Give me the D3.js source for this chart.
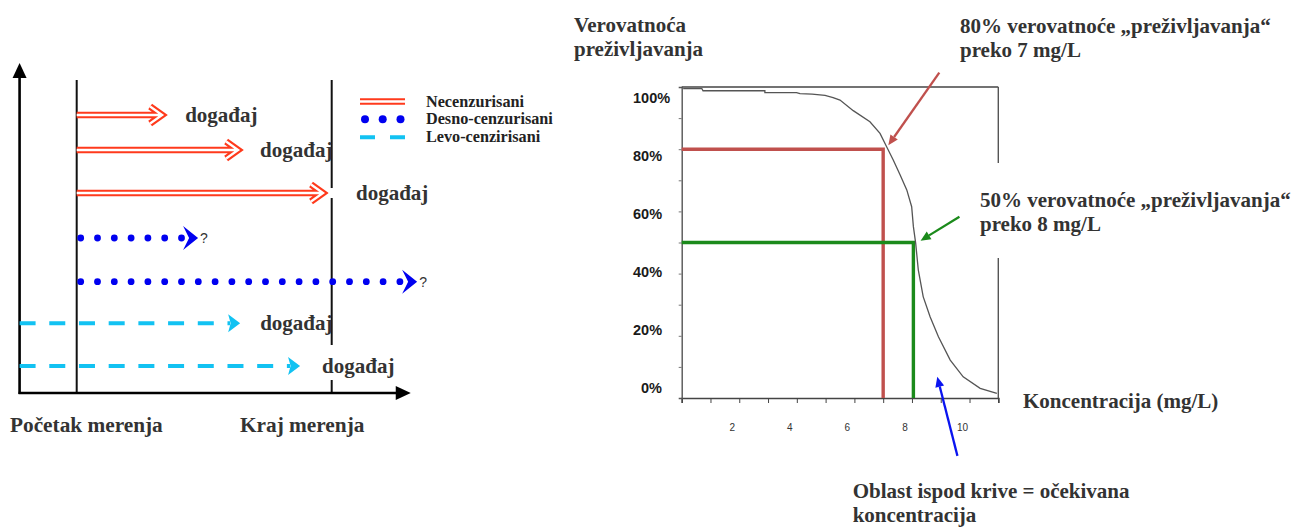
<!DOCTYPE html>
<html><head><meta charset="utf-8">
<script src="https://cdnjs.cloudflare.com/ajax/libs/d3/7.8.5/d3.min.js"></script>
<style>body{margin:0;background:#fff;} svg{display:block;}</style>
</head><body><svg id="c" width="1299" height="527"></svg>
<script>
// ================= DATA =================
// Left panel: observation rows (time in arbitrary units, 0 = start, 10 = end of measurement)
const rowIndex = [1, 1.837, 2.865, 3.94, 4.985, 5.98, 7.0];
const rowStart = [0, 0, 0, 0, 0, -2.24, -2.24];
const rowEnd   = [3.35, 6.33, 9.66, 4.76, 13.35, 6.41, 8.76];
const rowType  = ["N", "N", "N", "D", "D", "L", "L"];
const rowLabel = ["događaj", "događaj", "događaj", "?", "?", "događaj", "događaj"];
const measureMarks = [0, 10];
const measureLabels = ["Početak merenja", "Kraj merenja"];
const legendTypes = ["N", "D", "L"];
const legendLabels = ["Necenzurisani", "Desno-cenzurisani", "Levo-cenzirisani"];

// Right panel: survival curve (concentration mg/L, survival %)
const curveX = [0.05, 0.7, 0.74, 2.89, 2.89, 3.99, 4.11, 4.53, 4.98, 5.26, 5.5, 5.96, 6.54, 6.89, 7.12, 7.35, 7.59, 7.82, 7.99, 8.05, 8.13, 8.22, 8.39, 8.63, 8.92, 9.33, 9.78, 10.37, 10.95];
const curveY = [99.5, 99.5, 98.8, 98.8, 98.2, 98.2, 97.9, 97.7, 97.3, 96.6, 95.8, 92.4, 88.8, 85.1, 80.8, 76.5, 71.7, 66.9, 61.5, 55.1, 49.7, 41.2, 32.6, 26.1, 19.7, 12.2, 6.8, 3.1, 1.5];
const xTicks = [0,1,2,3,4,5,6,7,8,9,10,11];
const xTickLabels = [2, 4, 6, 8, 10];
const yTickLabels = [0, 20, 40, 60, 80, 100];
const yMinorTicks = [10, 20, 30, 40, 50, 60, 70, 80, 90];
const refX = [7, 8.05];       // red, green
const refY = [80, 50];
const annotX0 = [8.95, 9.65, 9.58];  // arrow tails (red, green, blue)
const annotY0 = [104.6, 58.3, -18.6];
const annotX1 = [7.18, 8.30, 8.88];  // arrow tips
const annotY1 = [81.3, 50.6, 6.8];
const annotColors = ["#c0504d", "#1b8a1b", "#0a14f0"];

// ================= DRAW =================
const svg = d3.select("#c");
const SERIF = "'Liberation Serif','Times New Roman',serif";
const SANS = "'Liberation Sans',Arial,sans-serif";
const RED = "#ff3a1c", BLUE = "#0000f0", CYAN = "#12c2f2";

// ---------- left panel ----------
const tX = d3.scaleLinear().domain([0, 10]).range([76.7, 331.7]);
const rY = d3.scaleLinear().domain([1, 7]).range([115, 366]);
const axisT0 = -2.24, axisT1 = 13.1, baseY = 393, topY = 63;
const L = svg.append("g");

// measurement lines
L.selectAll("line.meas").data(measureMarks).join("line")
  .attr("x1", d => tX(d)).attr("x2", d => tX(d))
  .attr("y1", 80).attr("y2", baseY)
  .attr("stroke", "#111").attr("stroke-width", 2);

// axes with arrows
L.append("line").attr("x1", tX(axisT0)).attr("x2", tX(axisT0)).attr("y1", baseY + 1).attr("y2", topY + 12)
  .attr("stroke", "#000").attr("stroke-width", 2.6);
L.append("path").attr("d", `M${tX(axisT0)},${topY} L${tX(axisT0) - 7},${topY + 15} L${tX(axisT0) + 7},${topY + 15} Z`).attr("fill", "#000");
L.append("line").attr("x1", tX(axisT0) - 1).attr("x2", tX(axisT1) - 12).attr("y1", baseY).attr("y2", baseY)
  .attr("stroke", "#000").attr("stroke-width", 2.6);
L.append("path").attr("d", `M${tX(axisT1)},${baseY} L${tX(axisT1) - 15},${baseY - 7} L${tX(axisT1) - 15},${baseY + 7} Z`).attr("fill", "#000");

const rows = rowIndex.map((r, i) => ({r, s: rowStart[i], e: rowEnd[i], type: rowType[i], label: rowLabel[i], i}));

function drawDouble(g, x0, x1, y, head) {
  let d = `M${x0},${y} L${x1},${y}`;
  if (head) d += ` M${x1 - 12},${y - 8.5} L${x1},${y} L${x1 - 12},${y + 8.5}`;
  g.append("path").attr("d", d).attr("fill", "none").attr("stroke", RED).attr("stroke-width", 6.6).attr("stroke-linejoin", "miter");
  g.append("path").attr("d", d).attr("fill", "none").attr("stroke", "#fff").attr("stroke-width", 2.3).attr("stroke-linejoin", "miter");
}

rows.forEach(o => {
  const y = rY(o.r), x0 = tX(o.s), x1 = tX(o.e);
  if (o.type === "N") {
    drawDouble(L, x0, x1, y, true);
  } else if (o.type === "D") {
    const xs = d3.range(x0 + 4, x1 - 14, 16.8);
    L.selectAll(null).data(xs).join("circle").attr("cx", d => d).attr("cy", y).attr("r", 3.4).attr("fill", BLUE);
    L.append("path").attr("d", `M${x1 - 15},${y - 12} L${x1},${y} L${x1 - 15},${y + 12} L${x1 - 9},${y} Z`).attr("fill", BLUE);
  } else {
    L.append("line").attr("x1", x0).attr("x2", x1 - 10).attr("y1", y).attr("y2", y)
      .attr("stroke", CYAN).attr("stroke-width", 4).attr("stroke-dasharray", "16 13.7");
    L.append("path").attr("d", `M${x1 - 12},${y - 9} L${x1},${y} L${x1 - 12},${y + 9} L${x1 - 9.5},${y} Z`).attr("fill", CYAN);
  }
});

// gaps in the end-of-measurement line behind some labels
const gapRows = [[2, -5, 5], [6, -21, 14]];
gapRows.forEach(([i, a, b]) => {
  L.append("rect").attr("x", tX(10) - 3).attr("y", rY(rowIndex[i]) + a).attr("width", 6).attr("height", b - a).attr("fill", "#fff");
});

const labelGap = [23, 22, 33, 2, 2, 20, 22];
rows.forEach(o => {
  const y = rY(o.r), x1 = tX(o.e);
  if (o.label === "?") {
    L.append("text").attr("x", x1 + labelGap[o.i]).attr("y", y + 5).text("?")
      .attr("font-family", SANS).attr("font-size", 14).attr("fill", "#333");
  } else {
    L.append("text").attr("x", x1 + labelGap[o.i]).attr("y", y + 7).text(o.label)
      .attr("font-family", SERIF).attr("font-weight", "bold").attr("font-size", 21).attr("fill", "#333");
  }
});

// bottom labels
L.selectAll("text.ml").data(measureLabels).join("text")
  .attr("x", (d, i) => i === 0 ? 10 : 240).attr("y", 431.7).text(d => d)
  .attr("font-family", SERIF).attr("font-weight", "bold").attr("font-size", 21.3).attr("fill", "#333");

// legend
const legY = [101.5, 119.3, 137.2];
legendTypes.forEach((t, i) => {
  const y = legY[i];
  if (t === "N") drawDouble(L, 360, 405, y, false);
  else if (t === "D") L.selectAll(null).data([365, 382.7, 400.5]).join("circle").attr("cx", d => d).attr("cy", y).attr("r", 4).attr("fill", BLUE);
  else L.append("line").attr("x1", 360).attr("x2", 405).attr("y1", y).attr("y2", y).attr("stroke", CYAN).attr("stroke-width", 4).attr("stroke-dasharray", "15 15");
  L.append("text").attr("x", 426).attr("y", y + 5).text(legendLabels[i])
    .attr("font-family", SERIF).attr("font-weight", "bold").attr("font-size", 16.2).attr("fill", "#222");
});

// ---------- right panel ----------
const x = d3.scaleLinear().domain([0, 11]).range([681.7, 998.3]);
const y = d3.scaleLinear().domain([0, 100]).range([398, 87]);
const yLab = d3.scaleLinear().domain([0, 100]).range([388, 97.3]);
const R = svg.append("g");

// frame: top and right borders
R.append("line").attr("x1", x(0)).attr("x2", x(11)).attr("y1", y(100)).attr("y2", y(100)).attr("stroke", "#444").attr("stroke-width", 1.6);
R.append("line").attr("x1", x(11)).attr("x2", x(11)).attr("y1", y(100)).attr("y2", y(0)).attr("stroke", "#555").attr("stroke-width", 1.4);

// bottom axis
const xa = R.append("g").attr("transform", `translate(0,${y(0)})`)
  .call(d3.axisBottom(x).tickValues(xTicks).tickSize(5).tickFormat(""));
xa.select(".domain").attr("stroke", "#444").attr("stroke-width", 1.6);
xa.selectAll(".tick line").attr("stroke", "#444");
R.append("g").selectAll("text").data(xTickLabels).join("text")
  .attr("x", d => x(d) - 7).attr("y", 431).attr("text-anchor", "middle").text(d => d)
  .attr("font-family", SANS).attr("font-size", 10).attr("fill", "#333");

// left axis
const ya = R.append("g").attr("transform", `translate(${x(0)},0)`)
  .call(d3.axisLeft(y).tickValues(yMinorTicks).tickSize(3).tickFormat(""));
ya.select(".domain").attr("stroke", "#555").attr("stroke-width", 1.4);
ya.selectAll(".tick line").attr("stroke", "#777");
R.append("g").selectAll("text").data(yTickLabels).join("text")
  .attr("x", d => d === 0 ? 641 : 633).attr("y", d => yLab(d)).attr("dy", "0.36em").text(d => d + "%")
  .attr("font-family", SANS).attr("font-weight", "bold").attr("font-size", 14.5).attr("fill", "#1a1a1a");

// reference lines
const refColors = ["#c0504d", "#1b8a1b"];
refX.forEach((rx, i) => {
  R.append("path").attr("d", `M${x(0)},${y(refY[i])} L${x(rx)},${y(refY[i])} L${x(rx)},${y(0)}`)
    .attr("fill", "none").attr("stroke", refColors[i]).attr("stroke-width", 3.4);
});

// survival curve
const curve = curveX.map((cx, i) => [cx, curveY[i]]);
R.append("path").datum(curve)
  .attr("d", d3.line().x(d => x(d[0])).y(d => y(d[1])))
  .attr("fill", "none").attr("stroke", "#555").attr("stroke-width", 1.3);

// annotation arrows
annotX0.forEach((ax, i) => {
  const x0 = x(ax), y0 = y(annotY0[i]), x1 = x(annotX1[i]), y1 = y(annotY1[i]);
  const ang = Math.atan2(y1 - y0, x1 - x0), hl = 10, hw = 4.5;
  const bx = x1 - hl * Math.cos(ang), by = y1 - hl * Math.sin(ang);
  R.append("line").attr("x1", x0).attr("y1", y0).attr("x2", bx).attr("y2", by)
    .attr("stroke", annotColors[i]).attr("stroke-width", 2.3);
  const px = -Math.sin(ang), py = Math.cos(ang);
  R.append("path").attr("d", `M${x1},${y1} L${bx + px * hw},${by + py * hw} L${bx - px * hw},${by - py * hw} Z`)
    .attr("fill", annotColors[i]);
});

// texts
const T = (tx, ty, s, size) => R.append("text").attr("x", tx).attr("y", ty).text(s)
  .attr("font-family", SERIF).attr("font-weight", "bold").attr("font-size", size || 21).attr("fill", "#333");
T(574, 31.7, "Verovatnoća");
T(574, 56, "preživljavanja");
T(960, 33, "80% verovatnoće „preživljavanja“");
T(960, 57, "preko 7 mg/L");
R.append("rect").attr("x", 976).attr("y", 163).attr("width", 320).attr("height", 95).attr("fill", "#fff");
T(980, 207.3, "50% verovatnoće „preživljavanja“");
T(980, 230.5, "preko 8 mg/L");
T(1023, 408.3, "Koncentracija (mg/L)");
T(852.7, 498.3, "Oblast ispod krive = očekivana");
T(852.7, 521.7, "koncentracija");
</script></body></html>
